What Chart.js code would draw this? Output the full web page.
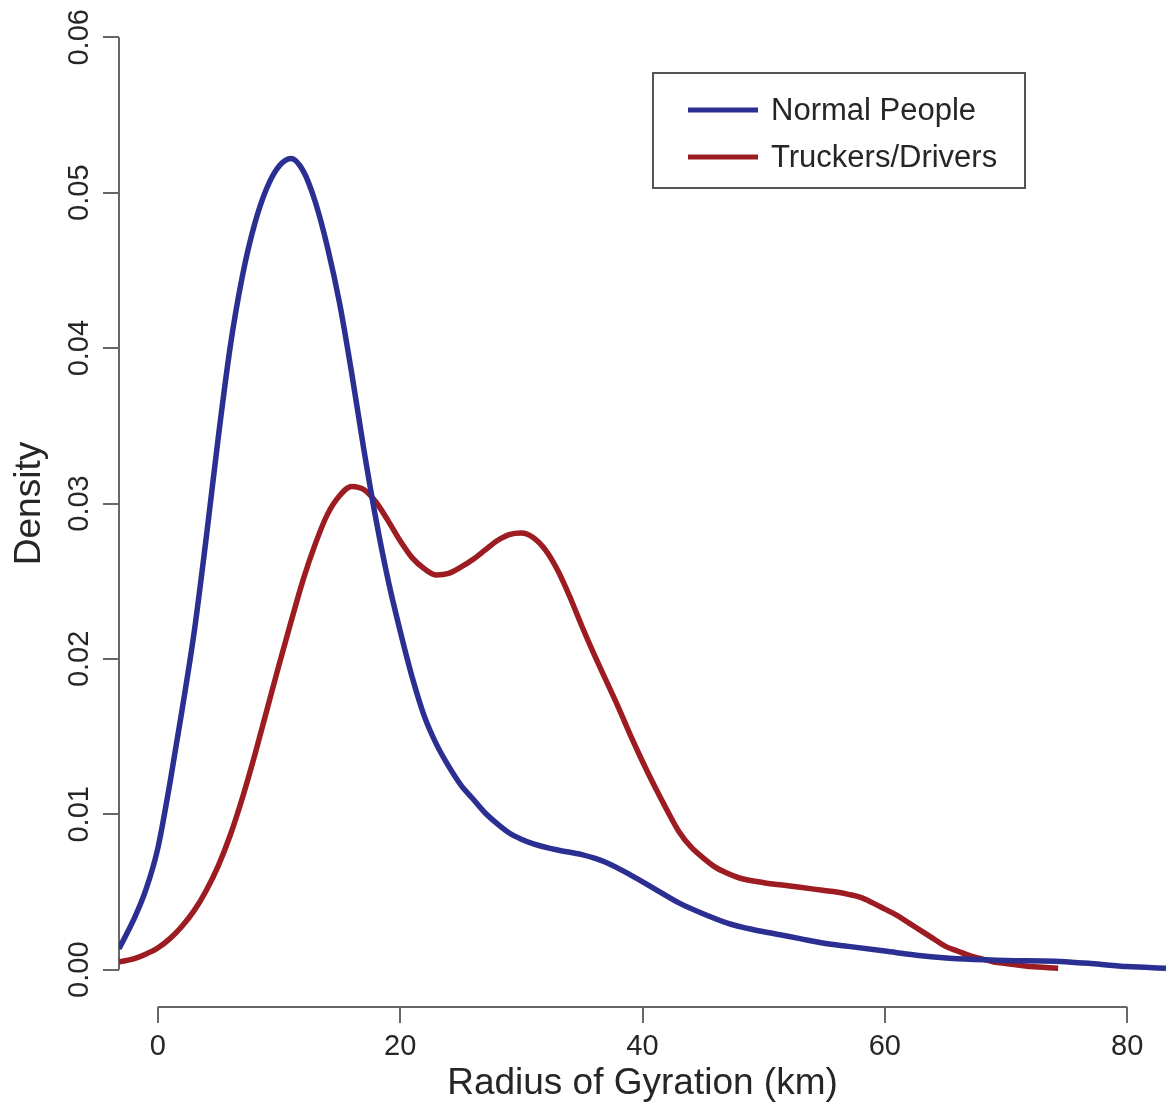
<!DOCTYPE html>
<html>
<head>
<meta charset="utf-8">
<title>Radius of Gyration density</title>
<script src="https://cdn.jsdelivr.net/npm/chart.js@4.4.1/dist/chart.umd.min.js"></script>
<style>
  html, body { margin: 0; padding: 0; background: #fff; }
  #wrap { width: 1171px; height: 1116px; }
</style>
</head>
<body>
<div id="wrap"><canvas id="densityChart" width="1171" height="1116"></canvas></div>
<script>
// density curves
const normalX = [-3.2, -2, -1, 0, 1, 2, 3, 4, 5, 6, 7, 8, 9, 10, 11,
  12, 13, 14, 15, 16, 17, 18, 19, 20, 21, 22, 23, 24, 25, 26, 27, 28, 29, 30, 31,
  33, 35, 37, 39, 41, 43, 45, 47, 49, 51, 53, 55, 57, 60, 63, 66, 70, 74, 77, 80, 83.2];
const normalY = [0.00135, 0.0032, 0.0051, 0.0078, 0.0120, 0.0167, 0.0217, 0.0278, 0.0343, 0.0402, 0.0447, 0.0480, 0.0503, 0.0517, 0.0522,
  0.0514, 0.0494, 0.0465, 0.0429, 0.0384, 0.0335, 0.0290, 0.0251, 0.0218, 0.0188, 0.0163, 0.0145, 0.0131, 0.0119, 0.0110, 0.0101, 0.0094, 0.0088, 0.0084, 0.0081,
  0.0077, 0.0074, 0.0069, 0.0061, 0.0052, 0.0043, 0.0036, 0.0030, 0.0026, 0.0023, 0.0020, 0.0017, 0.0015, 0.0012, 0.0009, 0.0007, 0.0006, 0.00055, 0.0004, 0.0002, 0.0001];

const truckerX = [-3.2, -2, -1, 0, 1, 2, 3, 4, 5, 6, 7, 8, 9, 10, 11, 12, 13, 14, 15, 16,
  17, 18, 19, 20, 21, 22, 23, 24, 25, 26, 27, 28, 29, 30, 31, 32, 33, 34, 35, 36,
  37, 38, 39, 40, 41, 42, 43, 44, 45, 46, 47, 48, 50, 52, 54, 55, 56, 57, 58, 59, 60,
  61, 62, 63, 64, 65, 66, 67, 68, 69, 70, 72, 74.3];
const truckerY = [0.0005, 0.0007, 0.0010, 0.0014, 0.0020, 0.0028, 0.0038, 0.0051, 0.0067, 0.0087, 0.0111, 0.0138, 0.0167, 0.0196, 0.0224, 0.0251, 0.0274, 0.0293, 0.0305, 0.0311,
  0.0309, 0.0301, 0.0289, 0.0276, 0.0265, 0.0258, 0.0254, 0.0255, 0.0259, 0.0264, 0.0270, 0.0276, 0.0280, 0.0281, 0.0278, 0.0270, 0.0257, 0.0240, 0.0221, 0.0203,
  0.0186, 0.0169, 0.0151, 0.0134, 0.0118, 0.0103, 0.0089, 0.0079, 0.0072, 0.0066, 0.0062, 0.0059, 0.0056, 0.0054, 0.0052, 0.0051, 0.0050, 0.00485, 0.00465, 0.0043, 0.0039,
  0.0035, 0.0030, 0.0025, 0.0020, 0.0015, 0.0012, 0.0009, 0.0007, 0.0005, 0.0004, 0.0002, 0.0001];

const xTickValues = [0, 20, 40, 60, 80];
const yTickValues = [0, 0.01, 0.02, 0.03, 0.04, 0.05, 0.06];
const seriesNames = ['Normal People', 'Truckers/Drivers'];
const seriesColors = ['#2c2f92', '#9d1c21'];

const FONT = '"Liberation Sans", Arial, Helvetica, sans-serif';
const AXIS_COLOR = '#666';
const TEXT_COLOR = '#262626';

function toPoints(xs, ys) {
  return xs.map((x, i) => ({ x: x, y: ys[i] }));
}

// R-style axis lines: only span from the first to the last tick
const axisLines = {
  id: 'axisLines',
  beforeDatasetsDraw(chart) {
    const ctx = chart.ctx;
    const xs = chart.scales.x, ys = chart.scales.y;
    ctx.save();
    ctx.strokeStyle = AXIS_COLOR;
    ctx.lineWidth = 2;
    ctx.beginPath();
    ctx.moveTo(ys.right, ys.getPixelForValue(yTickValues[0]));
    ctx.lineTo(ys.right, ys.getPixelForValue(yTickValues[yTickValues.length - 1]));
    ctx.moveTo(xs.getPixelForValue(xTickValues[0]), xs.top);
    ctx.lineTo(xs.getPixelForValue(xTickValues[xTickValues.length - 1]), xs.top);
    ctx.stroke();
    ctx.restore();
  }
};

// boxed legend in the top right, like R's legend()
const legendBox = {
  id: 'legendBox',
  afterDatasetsDraw(chart) {
    const ctx = chart.ctx;
    ctx.save();
    ctx.strokeStyle = '#555';
    ctx.lineWidth = 2;
    ctx.strokeRect(653, 73, 372, 115);
    ctx.font = '31px ' + FONT;
    ctx.textBaseline = 'middle';
    chart.data.datasets.forEach((ds, i) => {
      const y = 110 + i * 47;
      ctx.strokeStyle = ds.borderColor;
      ctx.lineWidth = 5;
      ctx.beginPath();
      ctx.moveTo(688, y);
      ctx.lineTo(758, y);
      ctx.stroke();
      ctx.fillStyle = TEXT_COLOR;
      ctx.fillText(ds.label, 771, y + 1);
    });
    ctx.restore();
  }
};

const ctx = document.getElementById('densityChart').getContext('2d');
new Chart(ctx, {
  type: 'line',
  data: {
    datasets: [
      {
        label: seriesNames[0],
        data: toPoints(normalX, normalY),
        borderColor: seriesColors[0],
        borderWidth: 5.5,
        pointRadius: 0,
        cubicInterpolationMode: 'monotone',
        fill: false
      },
      {
        label: seriesNames[1],
        data: toPoints(truckerX, truckerY),
        borderColor: seriesColors[1],
        borderWidth: 5.5,
        pointRadius: 0,
        cubicInterpolationMode: 'monotone',
        fill: false
      }
    ]
  },
  options: {
    responsive: false,
    animation: false,
    devicePixelRatio: 1,
    layout: { padding: { left: 0, right: 5, top: 0, bottom: 0 } },
    plugins: {
      legend: { display: false },
      tooltip: { enabled: false }
    },
    scales: {
      x: {
        type: 'linear',
        min: -3.2,
        max: 83.2,
        afterBuildTicks: (scale) => { scale.ticks = xTickValues.map(v => ({ value: v })); },
        afterFit: (scale) => {
          scale.height = 109;
          scale.paddingLeft = 0;
          scale.paddingRight = 0;
        },
        border: { display: false },
        grid: {
          drawOnChartArea: false,
          drawTicks: true,
          tickLength: 16,
          color: AXIS_COLOR,
          lineWidth: 2
        },
        ticks: {
          autoSkip: false,
          maxRotation: 0,
          padding: 7,
          color: TEXT_COLOR,
          font: { family: FONT, size: 29 },
          callback: (v) => String(v)
        },
        title: {
          display: true,
          text: 'Radius of Gyration (km)',
          color: TEXT_COLOR,
          font: { family: FONT, size: 37 },
          padding: { top: 0, bottom: 10 }
        }
      },
      y: {
        type: 'linear',
        min: -0.0024,
        max: 0.0624,
        afterBuildTicks: (scale) => { scale.ticks = yTickValues.map(v => ({ value: v })); },
        afterFit: (scale) => {
          scale.width = 119;
          scale.paddingTop = 0;
          scale.paddingBottom = 0;
        },
        border: { display: false },
        grid: {
          drawOnChartArea: false,
          drawTicks: true,
          tickLength: 16,
          color: AXIS_COLOR,
          lineWidth: 2
        },
        ticks: {
          autoSkip: false,
          minRotation: 90,
          maxRotation: 90,
          crossAlign: 'center',
          padding: -5,
          color: TEXT_COLOR,
          font: { family: FONT, size: 29 },
          callback: (v) => Number(v).toFixed(2)
        },
        title: {
          display: true,
          text: 'Density',
          color: TEXT_COLOR,
          font: { family: FONT, size: 37 },
          padding: { top: 8, bottom: 0 }
        }
      }
    }
  },
  plugins: [axisLines, legendBox]
});
</script>
</body>
</html>
